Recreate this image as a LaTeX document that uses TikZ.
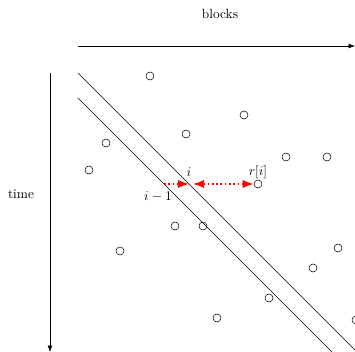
\documentclass[tikz,border=0pt]{standalone}
\usetikzlibrary{arrows.meta,positioning}

\begin{document}
\begin{tikzpicture}[x=0.75pt, y=-0.75pt, every node/.style={font=\normalsize},
    dot/.style={draw, circle, inner sep=0pt, minimum size=6pt},
    gap/.style={red, dotted, line width=1.2pt}]
  \useasboundingbox (0,0) rectangle (355,352);
  % axes
  \node (blocks) at (220,14) {blocks};
  \node (time) at (21,194) {time};
  \coordinate (bstart) at (78,46);
  \coordinate (bend) at (355,46);
  \coordinate (tstart) at (50,73);
  \coordinate (tend) at (50,352);
  \draw[-{Latex}] (bstart) -- (bend);
  \draw[-{Latex}] (tstart) -- (tend);
  % diagonals
  \coordinate (ua) at (78,73);
  \coordinate (ub) at (357,352);
  \coordinate (la) at (78,98);
  \coordinate (lb) at (332,352);
  \draw (ua) -- (ub);
  \draw (la) -- (lb);
  % points
  \foreach \px/\py [count=\k] in {150/76, 186/134, 244/115, 106/143, 89/170,
      286/157, 327/157, 175/226, 203/226, 120/251, 338/248, 313/268,
      269/298, 217/318, 356/320}
    \node[dot] (p\k) at (\px,\py) {};
  \node[dot] (ri) at (258,184) {};
  % distance
  \coordinate (lo) at (164,184);
  \coordinate (up) at (189,184);
  \coordinate (upr) at (193,184);
  \draw[gap, -{Latex}] (lo) -- (up);
  \draw[gap, {Latex}-{Latex}] (upr) -- (ri.west);
  \node (li) at (189,172) {$i$};
  \node (lri) at (258,172) {$r[i]$};
  \node (lim) at (158,197) {$i-1$};
\end{tikzpicture}
\end{document}
